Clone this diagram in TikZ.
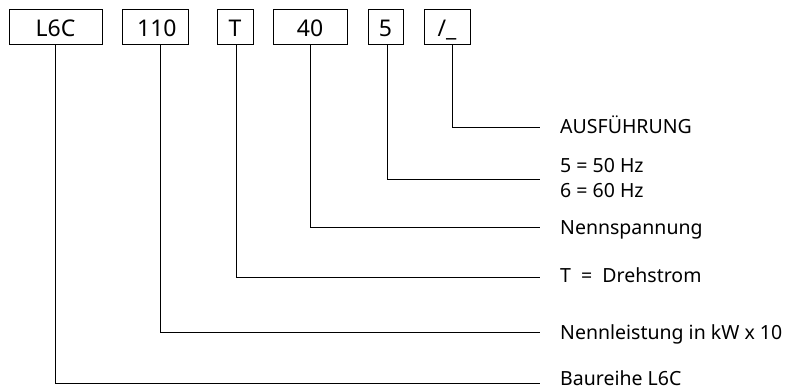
\documentclass[tikz,border=0pt]{standalone}
\usepackage{fontspec}
\setmainfont{Noto Sans}
\usetikzlibrary{positioning}

\begin{document}
\begin{tikzpicture}[
            x=1pt,
            y=-1pt,
            font=\fontsize{19.5}{25}\selectfont,
            codebox/.style={draw, line width=0.9pt, inner sep=0pt, minimum height=35pt,
                            text height=19pt, text depth=0pt, font=\fontsize{23}{25}\selectfont},
            legend/.style={anchor=base west, inner sep=0pt, align=left},
            leader/.style={line width=0.9pt}
        ]

            % --- Definitions ---
            \def\xend{540}
            \def\xtext{560}

            \useasboundingbox (0,0) rectangle (786,389);

            % --- 1. Code Boxes ---
            \node[codebox, minimum width=93pt] (bSeries)  at (55.5,26.5) {L6C};
            \node[codebox, minimum width=66pt] (bPower)   at (155,26.5) {\,110};
            \node[codebox, minimum width=36pt] (bCurrent) at (235,26.5) {T};
            \node[codebox, minimum width=74pt] (bVoltage) at (310,26.5) {40};
            \node[codebox, minimum width=35pt] (bFreq)    at (385.5,26.5) {5};
            \node[codebox, minimum width=46pt] (bVersion) at (447,26.5) {/\_};

            % --- 2. Legend Texts ---
            \node[legend] (lVersion) at (\xtext,133) {AUSFÜHRUNG};
            \node[legend] (lFreq)    at (\xtext,197) {5 = 50 Hz\\6 = 60 Hz};
            \node[legend] (lVoltage) at (\xtext,234) {Nennspannung};
            \node[legend] (lCurrent) at (\xtext,282) {T \ = \ Drehstrom};
            \node[legend] (lPower)   at (\xtext,339) {Nennleistung in kW x 10};
            \node[legend, align=none, text depth=0pt] (lSeries) at (\xtext,385.5) {Baureihe L6C};

            % --- 3. Line Ends ---
            \coordinate (eVersion) at (\xend,127);
            \coordinate (eFreq)    at (\xend,179);
            \coordinate (eVoltage) at (\xend,227);
            \coordinate (eCurrent) at (\xend,277);
            \coordinate (ePower)   at (\xend,332);
            \coordinate (eSeries)  at (\xend,383);

            % --- 4. Leader Lines ---
            \draw[leader] ([xshift=5pt]bVersion.south) |- (eVersion);
            \draw[leader] ([xshift=1.5pt]bFreq.south) |- (eFreq);
            \draw[leader] (bVoltage.south) |- (eVoltage);
            \draw[leader] ([xshift=1pt]bCurrent.south) |- (eCurrent);
            \draw[leader] ([xshift=5pt]bPower.south) |- (ePower);
            \draw[leader] (bSeries.south) |- (eSeries);

        \end{tikzpicture}
\end{document}
